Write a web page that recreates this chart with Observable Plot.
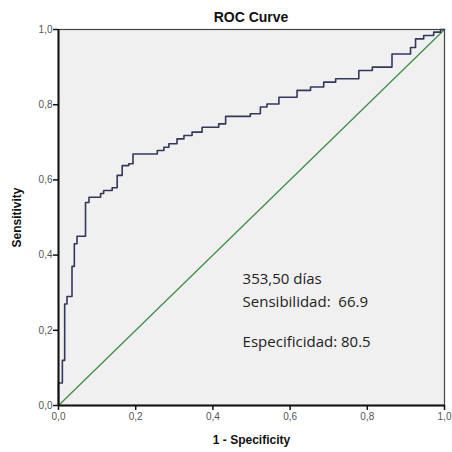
<!DOCTYPE html>
<html>
<head>
<meta charset="utf-8">
<script src="https://cdn.jsdelivr.net/npm/d3@7"></script>
<script src="https://cdn.jsdelivr.net/npm/@observablehq/plot@0.6"></script>
<style>
  body { margin: 0; background: #fff; }
  #title { height: 22px; overflow: visible; }
  #title span { display: block; position: relative; top: 9px; line-height: 14px; text-align: center; padding-left: 50px;
           font: bold 14px "Liberation Sans", Arial, sans-serif; color: #111; }
  svg { display: block; }
</style>
</head>
<body>
<div id="title"><span>ROC Curve</span></div>
<div id="chart"></div>
<script>
// ROC curve vertices (1 - specificity, sensitivity), step-after
const fpr = [0, 0, 0.010, 0.016, 0.022, 0.035, 0.041, 0.048, 0.070, 0.079, 0.109, 0.117, 0.139, 0.152, 0.165, 0.182, 0.193, 0.256, 0.273, 0.286, 0.307, 0.325, 0.346, 0.372, 0.415, 0.433, 0.497, 0.523, 0.540, 0.571, 0.618, 0.653, 0.687, 0.718, 0.778, 0.813, 0.864, 0.912, 0.925, 0.946, 0.972, 0.990, 1];
const tpr = [0, 0.060, 0.120, 0.270, 0.290, 0.370, 0.430, 0.450, 0.540, 0.554, 0.564, 0.572, 0.579, 0.612, 0.638, 0.643, 0.669, 0.678, 0.687, 0.696, 0.709, 0.718, 0.727, 0.740, 0.749, 0.769, 0.776, 0.794, 0.802, 0.820, 0.838, 0.847, 0.860, 0.869, 0.891, 0.900, 0.935, 0.952, 0.975, 0.984, 0.993, 1, 1];
const refX = [0, 1];
const refY = [0, 1];
const ticks = [0, 0.2, 0.4, 0.6, 0.8, 1.0];
const noteText = ["353,50 días", "Sensibilidad:  66.9", "Especificidad: 80.5"];
const noteX = [0.477, 0.477, 0.477];
const noteY = [0.322, 0.261, 0.155];

const curve = fpr.map((x, i) => ({x, y: tpr[i]}));
const ref = refX.map((x, i) => ({x, y: refY[i]}));
const notes = noteText.map((t, i) => ({t, x: noteX[i], y: noteY[i]}));
const fmt = d => d.toFixed(1).replace(".", ",");

const plot = Plot.plot({
  width: 452,
  height: 430,
  marginTop: 7,
  marginBottom: 47,
  marginLeft: 58,
  marginRight: 8,
  style: {fontFamily: "'Liberation Sans', Arial, sans-serif", background: "white"},
  x: {domain: [0, 1]},
  y: {domain: [0, 1]},
  marks: [
    Plot.frame({fill: "#f0f0f0", stroke: "#444", strokeWidth: 1.2}),
    Plot.line(ref, {x: "x", y: "y", stroke: "#3f8f47", strokeWidth: 1.3}),
    Plot.line(curve, {x: "x", y: "y", curve: "step-after", stroke: "#34375c", strokeWidth: 1.6}),
    Plot.text(notes, {x: "x", y: "y", text: "t", textAnchor: "start", lineAnchor: "bottom",
      fontSize: 15, fill: "#222", fontFamily: "'Open Sans', 'Noto Sans', sans-serif"}),
    Plot.ruleX([0], {stroke: "#111", strokeWidth: 2}),
    Plot.ruleY([0], {stroke: "#111", strokeWidth: 2}),
    Plot.axisX({ticks, tickFormat: fmt, tickSize: 5, tickPadding: 2, fontSize: 10, color: "#555",
      stroke: "#111", strokeWidth: 1.5,
      label: "1 - Specificity", labelAnchor: "center", labelOffset: 38, labelArrow: "none"}),
    Plot.axisY({ticks, tickFormat: fmt, tickSize: 5, tickPadding: 1, fontSize: 10, color: "#555",
      stroke: "#111", strokeWidth: 1.5,
      label: "Sensitivity", labelAnchor: "center", labelOffset: 46, labelArrow: "none"})
  ]
});
// style axis titles
plot.querySelectorAll("g[aria-label='x-axis label'] text, g[aria-label='y-axis label'] text").forEach(t => {
  t.style.fontWeight = "bold"; t.style.fontSize = "12px"; t.setAttribute("fill", "#111");
});
document.getElementById("chart").append(plot);
</script>
</body>
</html>
